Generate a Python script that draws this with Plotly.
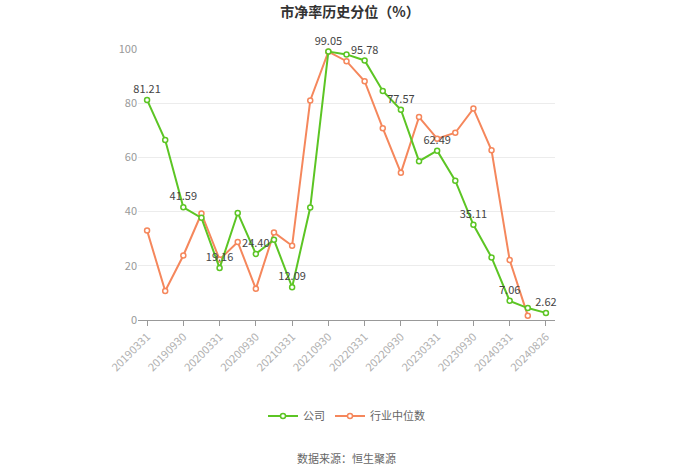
import plotly.graph_objects as go

dates = ["20190331", "20190630", "20190930", "20191231", "20200331", "20200630",
         "20200930", "20201231", "20210331", "20210630", "20210930", "20211231",
         "20220331", "20220630", "20220930", "20221231", "20230331", "20230630",
         "20230930", "20231231", "20240331", "20240630", "20240826"]
company = [81.21, 66.4, 41.59, 37.7, 19.16, 39.5, 24.40, 29.6, 12.09, 41.5, 99.05, 98.0,
           95.78, 84.5, 77.57, 58.6, 62.49, 51.4, 35.11, 23.1, 7.06, 4.4, 2.62]
industry = [33.0, 10.7, 23.8, 39.3, 22.3, 28.8, 11.5, 32.3, 27.4, 81.0, 99.0, 95.5,
            88.1, 70.8, 54.3, 74.9, 66.9, 69.1, 78.0, 62.6, 22.1, 1.6, None]
tick_dates = dates[::2]
labels = [f"{v:.2f}" if i % 2 == 0 else "" for i, v in enumerate(company)]

FONT = "Noto Sans CJK SC, Noto Sans, sans-serif"
GREEN = "#5cc524"
ORANGE = "#f5875c"

fig = go.Figure()
fig.add_trace(go.Scatter(
    x=dates, y=industry, name="行业中位数", mode="lines+markers",
    line=dict(color=ORANGE, width=2), cliponaxis=False,
    marker=dict(symbol="circle", size=5, color="white", line=dict(color=ORANGE, width=1.5)),
))
fig.add_trace(go.Scatter(
    x=dates, y=company, name="公司", mode="lines+markers+text",
    line=dict(color=GREEN, width=2), cliponaxis=False,
    marker=dict(symbol="circle", size=5, color="white", line=dict(color=GREEN, width=1.5)),
    text=labels, textposition="top center",
    textfont=dict(family=FONT, size=11, color="#444444"),
))

fig.update_layout(
    width=700, height=474,
    margin=dict(l=138, r=145, t=49, b=154),
    paper_bgcolor="white", plot_bgcolor="white",
    font=dict(family=FONT, color="#999999", size=11),
    title=dict(text="<b>市净率历史分位（%）</b>", x=0.5, xanchor="center",
               y=1 - 12 / 474, yanchor="middle", yref="container",
               font=dict(size=14, color="#333333", family=FONT)),
    showlegend=True,
    legend=dict(orientation="h", x=0.5, xanchor="center", y=1 - 416 / 474,
                yanchor="middle", yref="container", traceorder="reversed",
                font=dict(size=11, color="#666666", family=FONT)),
    xaxis=dict(type="category", categoryorder="array", categoryarray=dates,
               range=[-0.5, len(dates) - 0.5],
               tickmode="array", tickvals=tick_dates, ticktext=tick_dates,
               tickangle=-45, ticks="outside", ticklen=5, tickcolor="#999999",
               showline=True, linecolor="#999999", linewidth=1,
               showgrid=False, tickfont=dict(size=11, color="#b0b0b0")),
    yaxis=dict(range=[0, 100], tickvals=[0, 20, 40, 60, 80, 100],
               showgrid=True, gridcolor="#ececec", zeroline=False,
               showline=False, tickfont=dict(size=11, color="#999999"),
               ticksuffix="  "),
    annotations=[dict(text="数据来源：恒生聚源", x=0.5, xref="paper",
                      y=(320 - 458) / 271, yref="paper", showarrow=False,
                      xanchor="center", yanchor="middle",
                      font=dict(size=11, color="#666666", family=FONT))],
)

fig.write_html("out.html")
